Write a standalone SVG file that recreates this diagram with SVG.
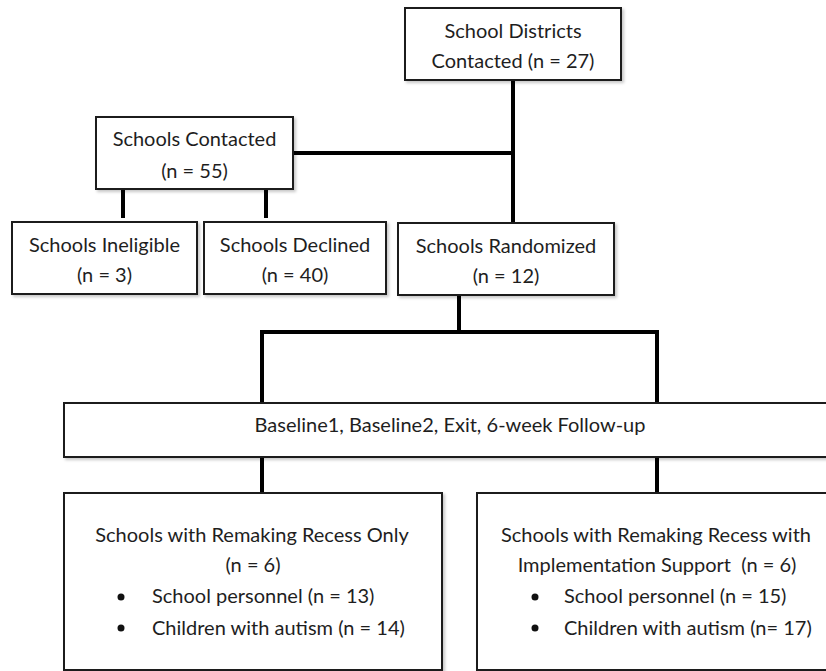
<svg xmlns="http://www.w3.org/2000/svg" width="826" height="671" viewBox="0 0 826 671">
<defs>
<filter id="sh" x="-5%" y="-5%" width="115%" height="120%">
<feDropShadow dx="2" dy="2" stdDeviation="1.5" flood-color="#000" flood-opacity="0.22"/>
</filter>
</defs>
<style>
.box{fill:#fff;stroke:#1a1a1a;stroke-width:2;filter:url(#sh)}
.t{font-family:Lato,"Liberation Sans",sans-serif;font-size:20px;fill:#1e1e1e;text-anchor:middle}
.l{font-family:Lato,"Liberation Sans",sans-serif;font-size:20px;fill:#1e1e1e}
.c{stroke:#000;stroke-width:4;fill:none}
</style>
<rect width="826" height="671" fill="#fff"/>
<g id="connectors">
<line class="c" x1="513" y1="80" x2="513" y2="223"/>
<line class="c" x1="293" y1="153" x2="513" y2="153"/>
<line class="c" x1="123" y1="189" x2="123" y2="218"/>
<line class="c" x1="266" y1="189" x2="266" y2="218"/>
<line class="c" x1="459" y1="295" x2="459" y2="332"/>
<polyline class="c" points="262,403 262,332 657,332 657,403"/>
<line class="c" x1="262" y1="457" x2="262" y2="493"/>
<line class="c" x1="657" y1="457" x2="657" y2="493"/>
</g>
<g id="districts">
<rect class="box" x="405" y="8" width="216" height="72"/>
<text class="t" x="513" y="38">School Districts</text>
<text class="t" x="513" y="68">Contacted (n = 27)</text>
</g>
<g id="contacted">
<rect class="box" x="96" y="117" width="197" height="72"/>
<text class="t" x="194.5" y="146">Schools Contacted</text>
<text class="t" x="194.5" y="178">(n = 55)</text>
</g>
<g id="ineligible">
<rect class="box" x="12" y="222" width="185" height="72"/>
<text class="t" x="104.5" y="252">Schools Ineligible</text>
<text class="t" x="104.5" y="282">(n = 3)</text>
</g>
<g id="declined">
<rect class="box" x="204" y="222" width="182" height="72"/>
<text class="t" x="295" y="252">Schools Declined</text>
<text class="t" x="295" y="282">(n = 40)</text>
</g>
<g id="randomized">
<rect class="box" x="398" y="223" width="216" height="72"/>
<text class="t" x="506" y="253">Schools Randomized</text>
<text class="t" x="506" y="283">(n = 12)</text>
</g>
<g id="baseline">
<rect class="box" x="64" y="403" width="800" height="54"/>
<text class="t" x="450" y="432">Baseline1, Baseline2, Exit, 6-week Follow-up</text>
</g>
<g id="recess-only">
<rect class="box" x="64" y="493" width="378" height="177"/>
<text class="t" x="252" y="542">Schools with Remaking Recess Only</text>
<text class="t" x="253" y="572">(n = 6)</text>
<circle cx="121" cy="597" r="3.5" fill="#111"/>
<circle cx="121" cy="628" r="3.5" fill="#111"/>
<text class="l" x="152" y="603">School personnel (n = 13)</text>
<text class="l" x="152" y="635">Children with autism (n = 14)</text>
</g>
<g id="recess-support">
<rect class="box" x="477" y="493" width="400" height="177"/>
<text class="t" x="656" y="542">Schools with Remaking Recess with</text>
<text class="t" x="657" y="572" xml:space="preserve">Implementation Support  (n = 6)</text>
<circle cx="535" cy="597" r="3.5" fill="#111"/>
<circle cx="535" cy="628" r="3.5" fill="#111"/>
<text class="l" x="564" y="603">School personnel (n = 15)</text>
<text class="l" x="564" y="635">Children with autism (n= 17)</text>
</g>
</svg>
